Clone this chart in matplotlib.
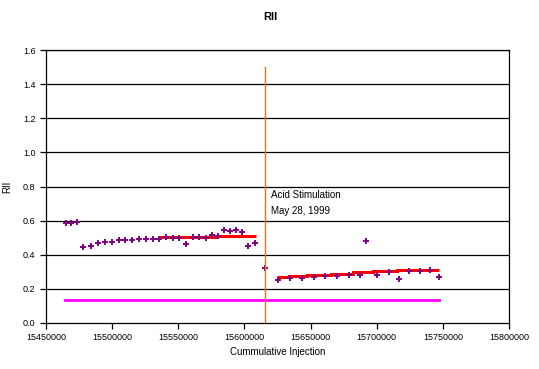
import matplotlib
matplotlib.use("Agg")
import matplotlib.pyplot as plt
from matplotlib.ticker import FormatStrFormatter

plt.rcParams['font.family'] = ['Liberation Sans', 'DejaVu Sans']

# RII readings vs cumulative injection
inj = [15465300, 15469100, 15473200, 15478200, 15483800, 15489300, 15494600,
       15499900, 15505000, 15509900, 15515200, 15520300, 15525600, 15530700,
       15535600, 15540700, 15545800, 15550800, 15556100, 15561400, 15565900,
       15571200, 15575700, 15580200, 15584300, 15589100, 15593400, 15597900,
       15602900, 15608200, 15615800,
       15625200, 15634700, 15643700, 15652600, 15661100, 15670200, 15678800,
       15687600, 15692100, 15700400, 15709100, 15716600, 15724400, 15732700,
       15740500, 15746900]
rii = [0.584, 0.584, 0.590, 0.444, 0.450, 0.471, 0.475,
       0.473, 0.485, 0.487, 0.487, 0.490, 0.494, 0.490,
       0.490, 0.506, 0.500, 0.496, 0.461, 0.502, 0.506,
       0.498, 0.514, 0.508, 0.545, 0.541, 0.545, 0.533,
       0.450, 0.467, 0.320,
       0.252, 0.264, 0.262, 0.271, 0.274, 0.274, 0.281,
       0.280, 0.481, 0.280, 0.297, 0.258, 0.305, 0.305,
       0.311, 0.268]

# trend (red steps) before and after stimulation
trend1_edges = [15534700, 15578300, 15608500]
trend1_levels = [0.506, 0.512]
trend2_edges = [15624800, 15633900, 15647500, 15665200, 15682300,
                15697400, 15715600, 15732200, 15747100]
trend2_levels = [0.271, 0.277, 0.283, 0.289, 0.297, 0.303, 0.309, 0.312]

# magenta baseline
base_x = [15464400, 15746900]
base_y = [0.137, 0.137]

stim_x = 15615800
stim_top = 1.5

fig = plt.figure(figsize=(5.39, 3.69), dpi=100)
ax = fig.add_axes([46/539, 1-323/369, 463/539, 273/369])

for y in [0.2, 0.4, 0.6, 0.8, 1.0, 1.2, 1.4, 1.6]:
    ax.axhline(y, color='black', lw=0.9, zorder=1)

ax.plot(base_x, base_y, color='#FF00FF', lw=2.0, zorder=2)
ax.stairs(trend1_levels, trend1_edges, color='#FF0000', lw=2.2, zorder=3, baseline=None)
ax.stairs(trend2_levels, trend2_edges, color='#FF0000', lw=2.2, zorder=3, baseline=None)
ax.plot(inj, rii, linestyle='none', marker='+', color='#800080',
        markersize=4, mew=1.4, zorder=4)
ax.plot([stim_x, stim_x], [0, stim_top], color='#F07020', lw=1.0, zorder=5)

ax.text(stim_x + 4500, 0.705, 'Acid Stimulation\nMay 28, 1999', fontsize=7,
        va='center', ha='left', linespacing=1.75)

ax.set_xlim(15450000, 15800000)
ax.set_ylim(0, 1.6)
ax.set_xticks(range(15450000, 15800001, 50000))
ax.set_yticks([0.0, 0.2, 0.4, 0.6, 0.8, 1.0, 1.2, 1.4, 1.6])
ax.yaxis.set_major_formatter(FormatStrFormatter('%.1f'))
ax.xaxis.set_major_formatter(FormatStrFormatter('%d'))
ax.tick_params(labelsize=6.5, direction='out', length=4, width=0.9, colors='black')
for s in ax.spines.values():
    s.set_linewidth(0.9)
    s.set_color('black')

ax.set_xlabel('Cummulative Injection', fontsize=7, labelpad=3)
ax.set_ylabel('RII', fontsize=7, labelpad=8)
fig.text(270/539, 1-17/369, 'RII', fontsize=8, fontweight='bold',
         ha='center', va='center')

fig.savefig('out.png', dpi=100)
